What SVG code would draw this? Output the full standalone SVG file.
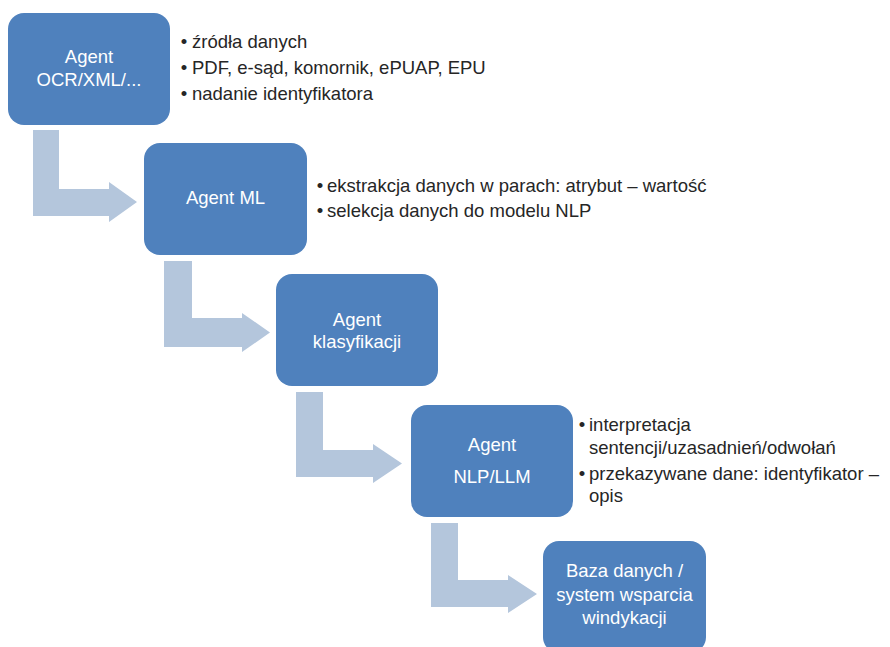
<svg xmlns="http://www.w3.org/2000/svg" width="890" height="647" viewBox="0 0 890 647">
<style>
.box{fill:#4F81BD;}
.arr{fill:#B4C6DC;}
.bt{font-family:"Liberation Sans",Arial,sans-serif;font-size:18.5px;fill:#FFFFFF;text-anchor:middle;}
.tx{font-family:"Liberation Sans",Arial,sans-serif;font-size:18.5px;fill:#262626;}
.bl{font-family:"Liberation Sans",Arial,sans-serif;font-size:18.5px;fill:#262626;text-anchor:middle;}
</style>
<rect width="890" height="647" fill="#FFFFFF"/>
<g id="connectors">
<path class="arr" d="M33,130 H59 V189 H109 V182 L137,202 L109,222 V216 H33 Z"/>
<path class="arr" d="M164,261 H192 V318 H242 V313 L270,332.5 L242,352 V347 H164 Z"/>
<path class="arr" d="M296,392 H323 V450 H373 V444 L402,463.5 L373,483 V477 H296 Z"/>
<path class="arr" d="M431,523 H458 V580 H508 V575 L537,594 L508,613 V607 H431 Z"/>
</g>
<g id="agent-ocr">
<rect class="box" x="8" y="13" width="162" height="112" rx="16"/>
<text class="bt" x="89" y="63">Agent</text>
<text class="bt" x="89" y="86">OCR/XML/...</text>
</g>
<g id="notes-ocr">
<text class="bl" x="184" y="48">•</text><text class="tx" x="192" y="48">źródła danych</text>
<text class="bl" x="184" y="74">•</text><text class="tx" x="192" y="74">PDF, e-sąd, komornik, ePUAP, EPU</text>
<text class="bl" x="184" y="100">•</text><text class="tx" x="192" y="100">nadanie identyfikatora</text>
</g>
<g id="agent-ml">
<rect class="box" x="144" y="143" width="163" height="112" rx="16"/>
<text class="bt" x="225.5" y="204">Agent ML</text>
</g>
<g id="notes-ml">
<text class="bl" x="320" y="192">•</text><text class="tx" x="327" y="192">ekstrakcja danych w parach: atrybut – wartość</text>
<text class="bl" x="320" y="217">•</text><text class="tx" x="327" y="217">selekcja danych do modelu NLP</text>
</g>
<g id="agent-klas">
<rect class="box" x="276" y="274" width="162" height="112" rx="16"/>
<text class="bt" x="357" y="326">Agent</text>
<text class="bt" x="357" y="348">klasyfikacji</text>
</g>
<g id="agent-nlp">
<rect class="box" x="411" y="405" width="162" height="112" rx="16"/>
<text class="bt" x="492" y="451">Agent</text>
<text class="bt" x="492" y="483">NLP/LLM</text>
</g>
<g id="notes-nlp">
<text class="bl" x="582" y="431">•</text><text class="tx" x="589" y="431">interpretacja</text>
<text class="tx" x="589" y="454">sentencji/uzasadnień/odwołań</text>
<text class="bl" x="582" y="480">•</text><text class="tx" x="589" y="480">przekazywane dane: identyfikator –</text>
<text class="tx" x="589" y="502">opis</text>
</g>
<g id="baza">
<rect class="box" x="543" y="541" width="163" height="112" rx="16"/>
<text class="bt" x="624.5" y="577">Baza danych /</text>
<text class="bt" x="624.5" y="601">system wsparcia</text>
<text class="bt" x="624.5" y="624">windykacji</text>
</g>
</svg>
